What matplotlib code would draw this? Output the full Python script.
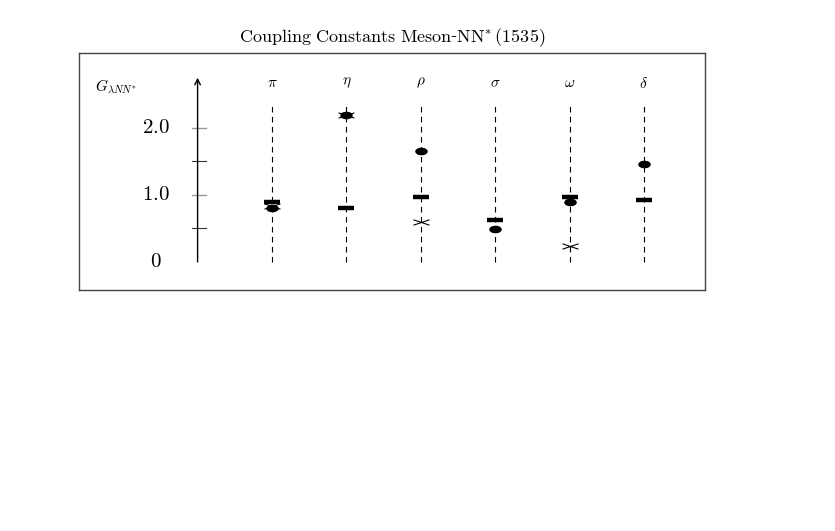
import numpy as np
import matplotlib
matplotlib.use('Agg')
import matplotlib.pyplot as plt
from matplotlib.path import Path

plt.rcParams['mathtext.fontset'] = 'cm'
plt.rcParams['font.family'] = 'serif'

mesons = [r'$\pi$', r'$\eta$', r'$\rho$', r'$\sigma$', r'$\omega$', r'$\delta$']
# three sets of coupling constants (None = not given)
bars = [0.90, 0.80, 0.975, 0.63, 0.975, 0.93]
dots = [0.80, 2.19, 1.65, 0.49, 0.90, 1.46]
crosses = [0.84, 2.19, 0.59, None, 0.24, None]
major_ticks = [0.0, 1.0, 2.0]
major_labels = ['0', '1.0', '2.0']
minor_ticks = [0.5, 1.5]

# flattened markers
ellipse = Path.unit_circle().transformed(matplotlib.transforms.Affine2D().scale(1.8, 1.0))
flat_x = Path([(-1.5, -0.5), (1.5, 0.5), (-1.5, 0.5), (1.5, -0.5)],
              [Path.MOVETO, Path.LINETO, Path.MOVETO, Path.LINETO])

fig = plt.figure(figsize=(8.35, 5.31), dpi=100)
ax = fig.add_axes([0.0946, 0.4539, 0.7497, 0.4463])
ax.set_xlim(-2.594, 5.82)
ax.set_ylim(-0.418, 3.119)
ax.set_xticks([]); ax.set_yticks([])
for s in ax.spines.values():
    s.set_color('#444444'); s.set_linewidth(1.0)

fig.text(0.47, 0.930, r'$\mathrm{Coupling\ Constants\ Meson}$-$\mathrm{NN}^{*}\,\mathrm{(1535)}$',
         ha='center', va='center', fontsize=13)

# vertical axis with arrow
ax.annotate('', xy=(-1, 2.75), xytext=(-1, 0), arrowprops=dict(arrowstyle='->', color='k', lw=1.0,
            shrinkA=0, shrinkB=0))
for t in major_ticks[1:]:
    ax.plot([-1.08, -0.89], [t, t], color='#999999', lw=1.0)
for t in minor_ticks:
    ax.plot([-1.08, -0.89], [t, t], color='#333333', lw=0.8)
for t, lab in zip(major_ticks, major_labels):
    ax.text(-1.56, t, r'$\mathbf{%s}$' % lab, ha='center', va='center', fontsize=15)
ax.text(-2.38, 2.61, r'$G_{\lambda NN^{*}}$', ha='left', va='center', fontsize=11)

x = np.arange(len(mesons))
for i, m in enumerate(mesons):
    ax.plot([i, i], [0, 2.38], color='k', lw=0.8, ls=(0, (5, 4)))
    ax.text(i, 2.67, m, ha='center', va='center', fontsize=11)

ax.plot(x, bars, ls='none', marker='_', ms=11.5, mew=3.2, color='k')
ax.plot(x, dots, ls='none', marker=ellipse, ms=8, color='k')
cx = [i for i, v in enumerate(crosses) if v is not None]
cy = [v for v in crosses if v is not None]
ax.plot(cx, cy, ls='none', marker=flat_x, ms=11.5, mew=0.8, color='k')

fig.savefig('out.png', dpi=100)
